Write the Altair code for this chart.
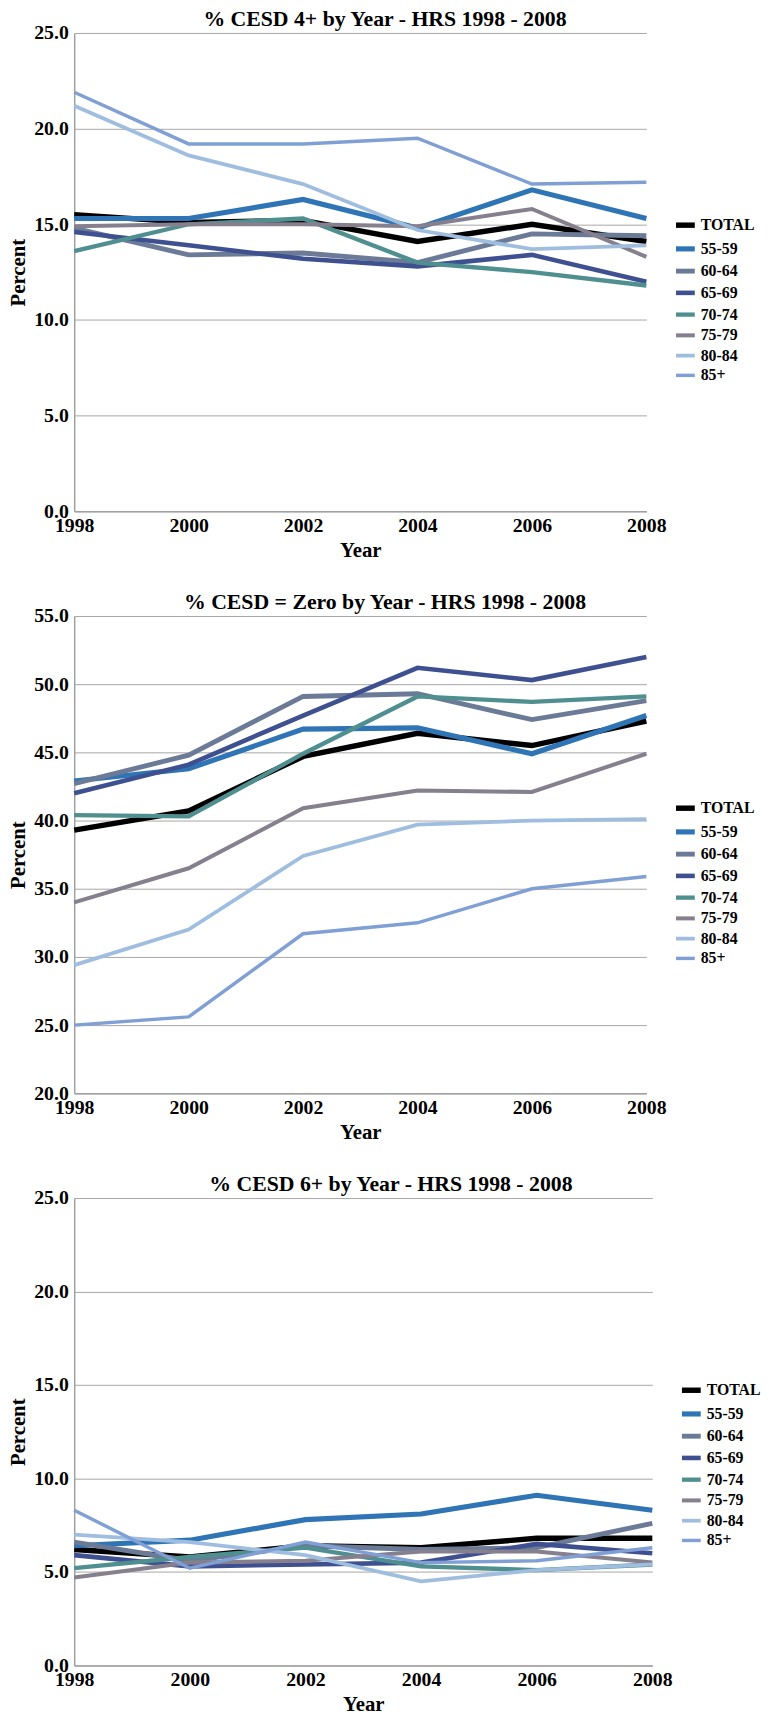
import altair as alt
import pandas as pd

years = [1998, 2000, 2002, 2004, 2006, 2008]
series = ["TOTAL", "55-59", "60-64", "65-69", "70-74", "75-79", "80-84", "85+"]
colors = ["#000000", "#2F74B5", "#6B7A96", "#3F5091", "#4F8F8F", "#86808E", "#9FBDDF", "#809FD5"]
widths = [5.5, 3.5, 3.5, 3.5, 3.5, 3.5, 3.5, 3.5]

# % CESD 4+
c4_total = [15.5, 15.1, 15.2, 14.1, 15.0, 14.1]
c4_5559 = [15.3, 15.3, 16.3, 14.8, 16.8, 15.3]
c4_6064 = [14.8, 13.4, 13.5, 13.0, 14.5, 14.4]
c4_6569 = [14.6, 13.9, 13.2, 12.8, 13.4, 12.0]
c4_7074 = [13.6, 15.0, 15.3, 13.0, 12.5, 11.8]
c4_7579 = [14.9, 15.0, 15.0, 14.9, 15.8, 13.3]
c4_8084 = [21.2, 18.6, 17.1, 14.7, 13.7, 13.9]
c4_85 = [21.9, 19.2, 19.2, 19.5, 17.1, 17.2]

# % CESD = Zero
c0_total = [39.3, 40.7, 44.7, 46.4, 45.5, 47.3]
c0_5559 = [42.9, 43.8, 46.7, 46.8, 44.9, 47.7]
c0_6064 = [42.7, 44.8, 49.1, 49.3, 47.4, 48.8]
c0_6569 = [42.0, 44.1, 47.7, 51.2, 50.3, 52.0]
c0_7074 = [40.4, 40.3, 44.9, 49.1, 48.7, 49.1]
c0_7579 = [34.0, 36.5, 40.9, 42.2, 42.1, 44.9]
c0_8084 = [29.4, 32.0, 37.4, 39.7, 40.0, 40.1]
c0_85 = [25.0, 25.6, 31.7, 32.5, 35.0, 35.9]

# % CESD 6+
c6_total = [6.2, 5.8, 6.4, 6.3, 6.8, 6.8]
c6_5559 = [6.4, 6.7, 7.8, 8.1, 9.1, 8.3]
c6_6064 = [6.6, 5.6, 6.4, 6.2, 6.3, 7.6]
c6_6569 = [5.9, 5.3, 5.4, 5.5, 6.5, 6.0]
c6_7074 = [5.2, 5.8, 6.3, 5.3, 5.1, 5.4]
c6_7579 = [4.7, 5.5, 5.6, 6.1, 6.1, 5.5]
c6_8084 = [7.0, 6.6, 5.9, 4.5, 5.1, 5.4]
c6_85 = [8.3, 5.2, 6.6, 5.5, 5.6, 6.3]

FONT = "Liberation Serif"


def make_df(rows):
    recs = []
    for s, vals in zip(series, rows):
        for y, v in zip(years, vals):
            recs.append({"year": y, "value": v, "series": s})
    return pd.DataFrame(recs)


def panel(rows, title, lo, hi, w, h, title_dx):
    df = make_df(rows)
    ticks = list(range(lo, hi + 1, 5))
    leg = alt.Legend(
        title=None, orient="none", legendX=w + 27, legendY=182,
        symbolType="stroke", symbolSize=361, rowPadding=-2,
        labelFont=FONT, labelFontSize=16, labelFontWeight="bold",
        labelColor="black", labelOffset=3, padding=0,
    )
    return alt.Chart(df).mark_line().encode(
        x=alt.X("year:Q",
                scale=alt.Scale(domain=[1998, 2008], nice=False, zero=False),
                axis=alt.Axis(values=years, format="d", title="Year", grid=False,
                              ticks=False, tickSize=0, labelPadding=4,
                              titlePadding=5, labelFlush=False)),
        y=alt.Y("value:Q",
                scale=alt.Scale(domain=[lo, hi], nice=False, zero=False),
                axis=alt.Axis(values=ticks, format=".1f", title="Percent",
                              grid=True, ticks=False, tickSize=0,
                              labelPadding=6, titlePadding=5)),
        color=alt.Color("series:N", scale=alt.Scale(domain=series, range=colors),
                        legend=leg),
        strokeWidth=alt.StrokeWidth("series:N",
                                    scale=alt.Scale(domain=series, range=widths),
                                    legend=leg),
    ).properties(
        width=w, height=h,
        title=alt.TitleParams(text=title, anchor="middle", frame="group",
                              font=FONT, fontSize=22, fontWeight="bold",
                              color="black", offset=-8, dx=title_dx),
    )


p1 = panel([c4_total, c4_5559, c4_6064, c4_6569, c4_7074, c4_7579, c4_8084, c4_85],
           "% CESD 4+ by Year - HRS 1998 - 2008", 0, 25, 579, 484, 25)
p2 = panel([c0_total, c0_5559, c0_6064, c0_6569, c0_7074, c0_7579, c0_8084, c0_85],
           "% CESD = Zero by Year - HRS 1998 - 2008", 20, 55, 579, 483, 25)
p3 = panel([c6_total, c6_5559, c6_6064, c6_6569, c6_7074, c6_7579, c6_8084, c6_85],
           "% CESD 6+ by Year - HRS 1998 - 2008", 0, 25, 585, 473, 28)

chart = alt.vconcat(p1, p2, p3, spacing=31).resolve_legend(
    color="independent", strokeWidth="independent"
).properties(
    padding={"top": -10, "left": 0, "right": 0, "bottom": 0}
).configure_view(stroke=None).configure_axis(
    labelFont=FONT, labelFontSize=20, labelFontWeight="bold", labelColor="black",
    titleFont=FONT, titleFontSize=21, titleFontWeight="bold", titleColor="black",
    domainColor="#a0a0a0", domainWidth=1.5, gridColor="#a6a6a6", gridWidth=1,
).configure_line(strokeCap="butt")

chart.save("out.html", embed_options={"renderer": "svg", "actions": False})
